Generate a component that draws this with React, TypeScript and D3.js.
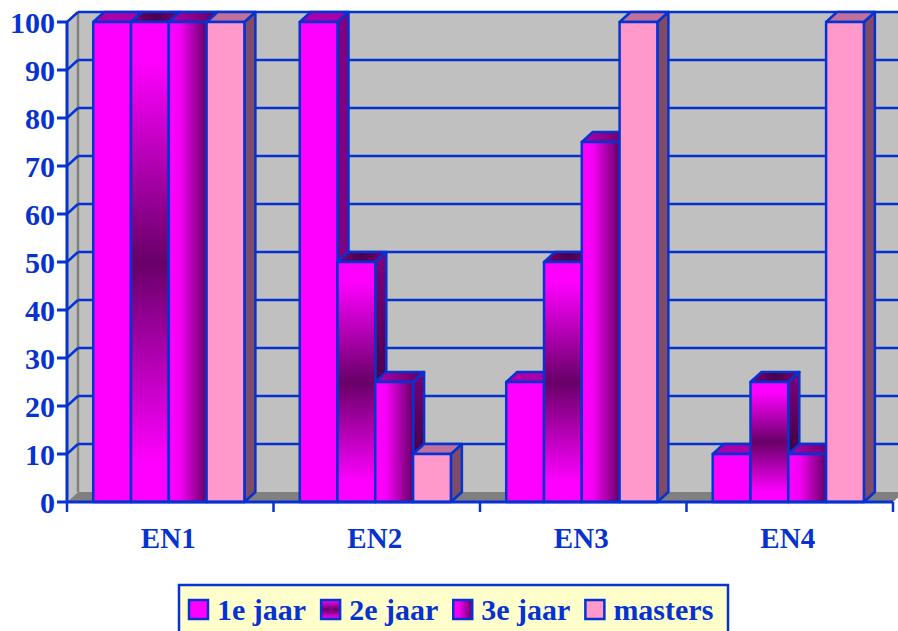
import React, { useRef, useEffect } from 'react';
import * as d3 from 'd3';

const categories = ['EN1', 'EN2', 'EN3', 'EN4'];
const seriesNames = ['1e jaar', '2e jaar', '3e jaar', 'masters'];
const jaar1 = [100, 100, 25, 10];
const jaar2 = [100, 50, 50, 25];
const jaar3 = [100, 25, 75, 10];
const masters = [100, 10, 100, 100];
const yTicks = [0, 10, 20, 30, 40, 50, 60, 70, 80, 90, 100];

const BLUE = '#0633D0';
const FONT = '"Liberation Serif", "Times New Roman", serif';

// fills per series: front, top, side
const fills = [
  { front: '#FF00FF', top: '#AA00AA', side: '#800080' },
  { front: 'url(#g2front)', top: 'url(#g2top)', side: 'url(#g2side)' },
  { front: 'url(#g3front)', top: 'url(#g3top)', side: 'url(#g3side)' },
  { front: '#FF99CC', top: '#C0709C', side: '#7F4C68' },
];

const App = () => {
  const svgRef = useRef<SVGSVGElement>(null);

  useEffect(() => {
    const svg = d3.select(svgRef.current);
    svg.selectAll('*').remove();

    const width = 898;
    const height = 631;
    const left = 67;
    const right = 893;
    const top = 22;
    const bottom = 502;
    const dx = 11;
    const dy = -10;

    const values = [jaar1, jaar2, jaar3, masters];

    const y = d3.scaleLinear().domain([0, 100]).range([bottom, top]);
    const x0 = d3.scaleBand().domain(categories).range([left, right]).padding(0);
    const bw = x0.bandwidth();
    const x1 = d3.scaleBand()
      .domain(seriesNames)
      .range([bw * 0.127, bw * 0.127 + bw * 0.732])
      .padding(0);

    const defs = svg.append('defs');
    const grad = (id, vertical, stops) => {
      const g = defs.append('linearGradient').attr('id', id)
        .attr('x1', 0).attr('y1', 0)
        .attr('x2', vertical ? 0 : 1).attr('y2', vertical ? 1 : 0);
      stops.forEach(([o, c]) => g.append('stop').attr('offset', o).attr('stop-color', c));
    };
    grad('g2front', true, [[0, '#FF00FF'], [0.08, '#FF00FF'], [0.5, '#680068'], [0.92, '#FF00FF'], [1, '#FF00FF']]);
    grad('g2top', false, [[0, '#7A007A'], [0.5, '#4A004A'], [1, '#7A007A']]);
    grad('g2side', true, [[0, '#800080'], [1, '#1A0018']]);
    grad('g3front', false, [[0, '#FF00FF'], [0.3, '#F400F4'], [1, '#640064']]);
    grad('g3top', false, [[0, '#B000B0'], [1, '#600060']]);
    grad('g3side', true, [[0, '#7A007A'], [1, '#2A0028']]);
    grad('lg2', true, [[0, '#FF00FF'], [0.5, '#680068'], [1, '#FF00FF']]);
    grad('lg3', false, [[0, '#FF00FF'], [0.3, '#F400F4'], [1, '#640064']]);

    svg.attr('width', width).attr('height', height);

    // back wall
    svg.append('rect')
      .attr('x', left + dx).attr('y', top + dy)
      .attr('width', width).attr('height', bottom - top)
      .attr('fill', '#C0C0C0');
    svg.append('line')
      .attr('x1', left + dx).attr('x2', width)
      .attr('y1', top + dy).attr('y2', top + dy)
      .attr('stroke', '#808080').attr('stroke-width', 2);

    // left wall
    svg.append('polygon')
      .attr('points', [[left, bottom], [left + dx, bottom + dy], [left + dx, top + dy], [left, top]].join(' '))
      .attr('fill', '#C0C0C0');
    svg.append('line')
      .attr('x1', left + dx).attr('x2', left + dx)
      .attr('y1', top + dy).attr('y2', bottom + dy)
      .attr('stroke', '#808080').attr('stroke-width', 2.5);

    // floor
    svg.append('polygon')
      .attr('points', [[left, bottom], [right, bottom], [right + dx, bottom + dy], [left + dx, bottom + dy]].join(' '))
      .attr('fill', '#808080');

    // gridlines
    yTicks.filter(t => t > 0).forEach(t => {
      const yy = y(t);
      svg.append('line')
        .attr('x1', left + dx).attr('x2', width)
        .attr('y1', yy + dy).attr('y2', yy + dy)
        .attr('stroke', BLUE).attr('stroke-width', 2.5);
      svg.append('line')
        .attr('x1', left).attr('x2', left + dx)
        .attr('y1', yy).attr('y2', yy + dy)
        .attr('stroke', BLUE).attr('stroke-width', 2.5);
    });

    // bars
    categories.forEach((cat, ci) => {
      seriesNames.forEach((s, si) => {
        const v = values[si][ci];
        const bx = x0(cat) + x1(s);
        const w = x1.bandwidth();
        const yt = y(v);
        const f = fills[si];
        const g = svg.append('g')
          .attr('stroke', BLUE).attr('stroke-width', 2.5).attr('stroke-linejoin', 'round');
        g.append('polygon')
          .attr('points', [[bx + w, bottom], [bx + w + dx, bottom + dy], [bx + w + dx, yt + dy], [bx + w, yt]].join(' '))
          .attr('fill', f.side);
        g.append('polygon')
          .attr('points', [[bx, yt], [bx + w, yt], [bx + w + dx, yt + dy], [bx + dx, yt + dy]].join(' '))
          .attr('fill', f.top);
        g.append('rect')
          .attr('x', bx).attr('y', yt)
          .attr('width', w).attr('height', bottom - yt)
          .attr('fill', f.front);
      });
    });

    // y axis
    svg.append('line')
      .attr('x1', left).attr('x2', left)
      .attr('y1', top).attr('y2', bottom + 1)
      .attr('stroke', BLUE).attr('stroke-width', 3);
    yTicks.forEach(t => {
      svg.append('line')
        .attr('x1', left - 10).attr('x2', left)
        .attr('y1', y(t)).attr('y2', y(t))
        .attr('stroke', BLUE).attr('stroke-width', 3);
      svg.append('text')
        .attr('x', 55).attr('y', y(t)).attr('dy', '0.35em')
        .attr('text-anchor', 'end')
        .attr('font-family', FONT).attr('font-weight', 'bold').attr('font-size', 30)
        .attr('fill', BLUE)
        .text(t);
    });

    // x axis
    svg.append('line')
      .attr('x1', left).attr('x2', right)
      .attr('y1', bottom).attr('y2', bottom)
      .attr('stroke', BLUE).attr('stroke-width', 3);
    [...categories.map(c => x0(c)), right].forEach(xx => {
      svg.append('line')
        .attr('x1', xx).attr('x2', xx)
        .attr('y1', bottom).attr('y2', bottom + 10)
        .attr('stroke', BLUE).attr('stroke-width', 2.5);
    });
    categories.forEach(c => {
      svg.append('text')
        .attr('x', x0(c) + bw / 2 - 2).attr('y', 548)
        .attr('text-anchor', 'middle')
        .attr('font-family', FONT).attr('font-weight', 'bold').attr('font-size', 29)
        .attr('fill', BLUE)
        .text(c);
    });

    // legend
    const legend = svg.append('g');
    legend.append('rect')
      .attr('x', 179).attr('y', 585)
      .attr('width', 549).attr('height', 60)
      .attr('fill', '#FFFFCC').attr('stroke', BLUE).attr('stroke-width', 2.5);
    const legendFills = ['#FF00FF', 'url(#lg2)', 'url(#lg3)', '#FF99CC'];
    let lx = 189;
    seriesNames.forEach((s, i) => {
      legend.append('rect')
        .attr('x', lx).attr('y', 600)
        .attr('width', 19).attr('height', 19)
        .attr('fill', legendFills[i]).attr('stroke', BLUE).attr('stroke-width', 2.5);
      const t = legend.append('text')
        .attr('x', lx + 28).attr('y', 620)
        .attr('font-family', FONT).attr('font-weight', 'bold').attr('font-size', 30)
        .attr('fill', BLUE)
        .text(s);
      const tw = (t.node() as SVGTextElement).getComputedTextLength();
      lx += 28 + tw + 15;
    });
  }, []);

  return (
    <svg ref={svgRef} style={{ position: 'absolute', left: 0, top: 0 }} width={898} height={631}></svg>
  );
};

export default App;
